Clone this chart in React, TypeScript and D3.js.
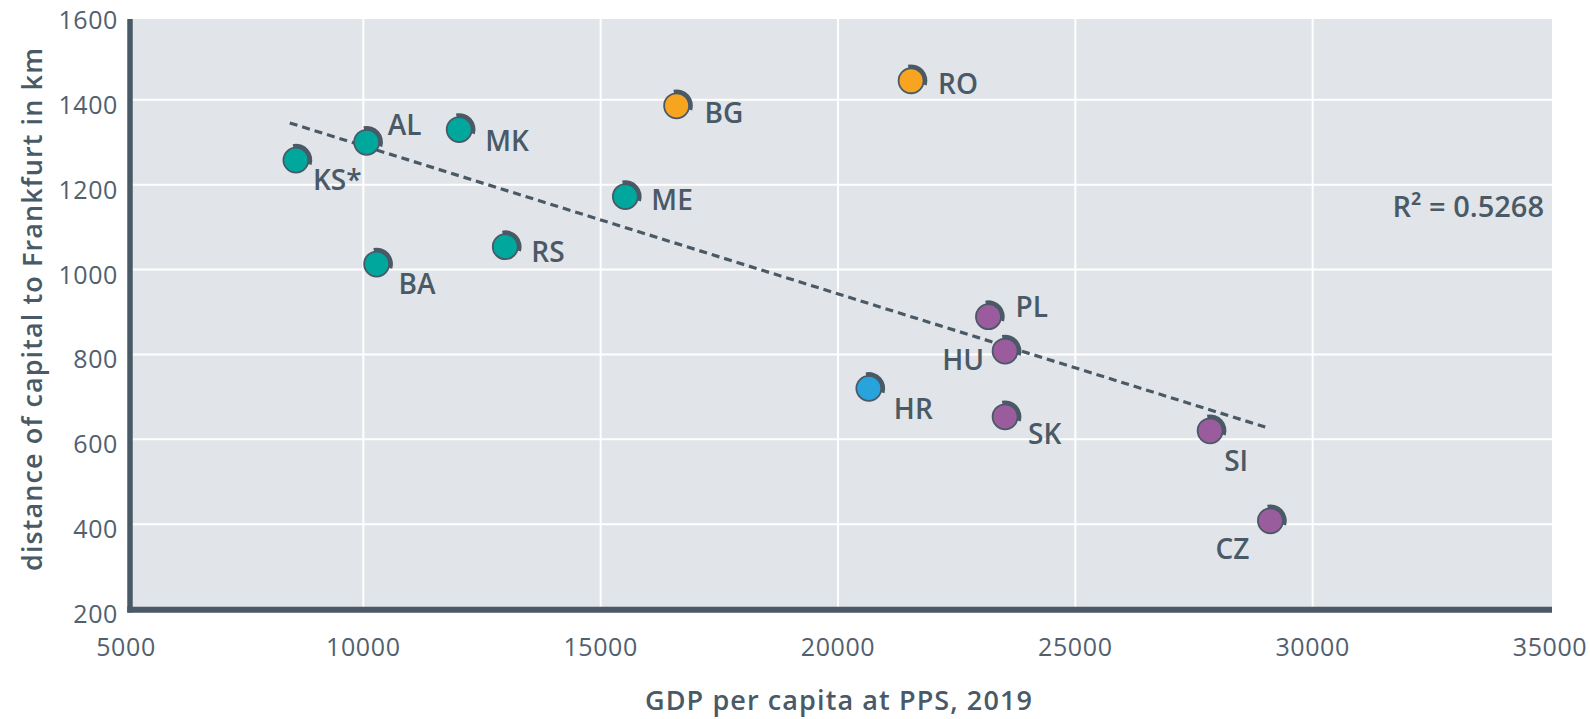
import React from "react";
import * as d3 from "d3";

// ---- data ----
const countries = ["KS*", "AL", "MK", "BA", "RS", "ME", "BG", "RO", "HR", "PL", "HU", "SK", "SI", "CZ"];
const gdpPerCapita = [8580, 10070, 12020, 10280, 12990, 15520, 16600, 21540, 20650, 23170, 23520, 23520, 27840, 29110];
const distanceKm = [1258, 1300, 1330, 1013, 1054, 1172, 1386, 1445, 720, 889, 808, 653, 620, 408];
const groups = ["WB", "WB", "WB", "WB", "WB", "WB", "BGRO", "BGRO", "HR", "CE", "CE", "CE", "CE", "CE"];
const xTicks = [5000, 10000, 15000, 20000, 25000, 30000, 35000];
const yTicks = [200, 400, 600, 800, 1000, 1200, 1400, 1600];
const trendRange = [8450, 29000];
const rSquaredText = "R² = 0.5268";
const xTitle = "GDP per capita at PPS, 2019";
const yTitle = "distance of capital to Frankfurt in km";

// ---- styles ----
const groupColors: Record<string, string> = {
  WB: "#00a79d",
  BGRO: "#f7a520",
  HR: "#29a3dc",
  CE: "#9b5c9e",
};
const ink = "#4a5966";
const tickInk = "#52606e";
const plotBg = "#e1e4e8";
const FONT = "'Open Sans', 'DejaVu Sans', sans-serif";

// label offsets relative to the point centre [dx, dy, anchor]
const labelOffsets: Record<string, [number, number, string]> = {
  "KS*": [17, 30, "start"],
  AL: [21, -7, "start"],
  MK: [26, 21, "start"],
  BA: [22, 30, "start"],
  RS: [26, 15, "start"],
  ME: [26, 13, "start"],
  BG: [28, 17, "start"],
  RO: [27, 13, "start"],
  HR: [25, 31, "start"],
  PL: [27, 0, "start"],
  HU: [-21, 19, "end"],
  SK: [23, 27, "start"],
  SI: [14, 40, "start"],
  CZ: [-21, 38, "end"],
};

export default function App() {
  const W = 1590;
  const H = 719;
  const plotLeft = 130;
  const plotRight = 1552;
  const plotTop = 19;
  const plotBottom = 609;

  const x = d3.scaleLinear().domain([5000, 35000]).range([126, 1550]);
  const y = d3.scaleLinear().domain([200, 1600]).range([609, 15]);

  // linear regression trend line
  const mx = d3.mean(gdpPerCapita)!;
  const my = d3.mean(distanceKm)!;
  let sxy = 0;
  let sxx = 0;
  gdpPerCapita.forEach((v, i) => {
    sxy += (v - mx) * (distanceKm[i] - my);
    sxx += (v - mx) * (v - mx);
  });
  const slope = sxy / sxx;
  const intercept = my - slope * mx;
  const trendLine = d3
    .line<number>()
    .x((d) => x(d))
    .y((d) => y(intercept + slope * d));

  const r = 12.5;
  const arcGen = d3
    .arc()
    .innerRadius(r - 0.5)
    .outerRadius(r + 3.8)
    .startAngle(-0.2)
    .endAngle(Math.PI / 2 + 0.3);

  return (
    <svg
      width={W}
      height={H}
      style={{ position: "absolute", left: 0, top: 0, background: "#ffffff" }}
    >
      <rect x={plotLeft} y={plotTop} width={plotRight - plotLeft} height={plotBottom - plotTop} fill={plotBg} />
      {/* gridlines */}
      {xTicks
        .filter((t) => x(t) > plotLeft + 3 && x(t) < plotRight - 3)
        .map((t) => (
          <line key={"gx" + t} x1={x(t)} x2={x(t)} y1={plotTop} y2={plotBottom} stroke="#ffffff" strokeWidth={2} />
        ))}
      {yTicks
        .filter((t) => y(t) > plotTop + 3 && y(t) < plotBottom - 3)
        .map((t) => (
          <line key={"gy" + t} x1={plotLeft} x2={plotRight} y1={y(t)} y2={y(t)} stroke="#ffffff" strokeWidth={2} />
        ))}
      {/* axes */}
      <line x1={130} x2={130} y1={plotTop} y2={612.5} stroke={ink} strokeWidth={5.5} />
      <line x1={127.3} x2={plotRight} y1={609.7} y2={609.7} stroke={ink} strokeWidth={6} />
      {/* tick labels */}
      {yTicks.map((t) => (
        <text
          key={"ly" + t}
          x={118}
          y={y(t) + 4}
          textAnchor="end"
          dominantBaseline="central"
          fontFamily={FONT}
          fontSize={25}
          letterSpacing={0.6}
          fill={tickInk}
        >
          {t}
        </text>
      ))}
      {xTicks.map((t) => (
        <text
          key={"lx" + t}
          x={x(t)}
          y={656}
          textAnchor="middle"
          fontFamily={FONT}
          fontSize={25}
          letterSpacing={0.6}
          fill={tickInk}
        >
          {t}
        </text>
      ))}
      {/* axis titles */}
      <text
        x={839}
        y={710}
        textAnchor="middle"
        fontFamily={FONT}
        fontSize={27}
        fontWeight={600}
        letterSpacing={1.1}
        fill={ink}
      >
        {xTitle}
      </text>
      <text
        transform="translate(41.5,309) rotate(-90)"
        textAnchor="middle"
        fontFamily={FONT}
        fontSize={27}
        fontWeight={600}
        letterSpacing={1.1}
        fill={ink}
      >
        {yTitle}
      </text>
      {/* trend line */}
      <path
        d={trendLine(trendRange) || ""}
        fill="none"
        stroke={ink}
        strokeWidth={3.2}
        strokeDasharray="8,5"
      />
      {/* points */}
      {countries.map((c, i) => {
        const cx = x(gdpPerCapita[i]);
        const cy = y(distanceKm[i]);
        return (
          <g key={c} transform={`translate(${cx},${cy})`}>
            <circle r={r} fill={groupColors[groups[i]]} stroke={ink} strokeWidth={1.8} />
            <path d={(arcGen as any)() || ""} fill={ink} />
          </g>
        );
      })}
      {/* point labels */}
      {countries.map((c, i) => {
        const [dx, dy, anchor] = labelOffsets[c];
        return (
          <text
            key={"t" + c}
            x={x(gdpPerCapita[i]) + dx}
            y={y(distanceKm[i]) + dy}
            textAnchor={anchor as any}
            fontFamily={FONT}
            fontSize={28}
            fontWeight={600}
            fill={ink}
          >
            {c}
          </text>
        );
      })}
      {/* R squared */}
      <text
        x={1544}
        y={217}
        textAnchor="end"
        fontFamily={FONT}
        fontSize={29}
        fontWeight={600}
        fill={ink}
      >
        {rSquaredText}
      </text>
    </svg>
  );
}
